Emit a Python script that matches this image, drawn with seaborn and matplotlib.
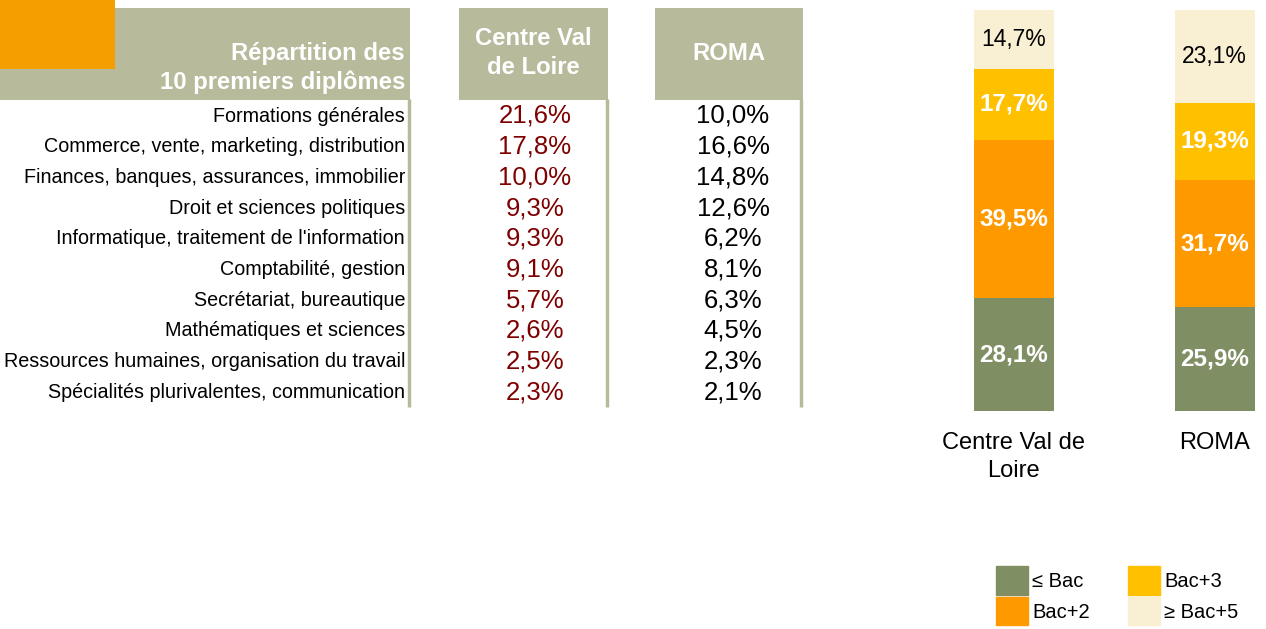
import matplotlib
matplotlib.use("Agg")
import matplotlib.pyplot as plt
from matplotlib.patches import Rectangle, Patch
import seaborn as sns
import pandas as pd

sns.set_style("white")
plt.rcParams["font.family"] = ["Liberation Sans", "DejaVu Sans"]
plt.rcParams["text.color"] = "black"
plt.rcParams["xtick.color"] = "black"

# table data
diplomes = [
    "Formations générales",
    "Commerce, vente, marketing, distribution",
    "Finances, banques, assurances, immobilier",
    "Droit et sciences politiques",
    "Informatique, traitement de l'information",
    "Comptabilité, gestion",
    "Secrétariat, bureautique",
    "Mathématiques et sciences",
    "Ressources humaines, organisation du travail",
    "Spécialités plurivalentes, communication",
]
centre_pct = ["21,6%", "17,8%", "10,0%", "9,3%", "9,3%", "9,1%", "5,7%", "2,6%", "2,5%", "2,3%"]
roma_pct = ["10,0%", "16,6%", "14,8%", "12,6%", "6,2%", "8,1%", "6,3%", "4,5%", "2,3%", "2,1%"]

# stacked bar data
regions = ["Centre Val de\nLoire", "ROMA"]
niveaux = ["≤ Bac", "Bac+2", "Bac+3", "≥ Bac+5"]
bac = [28.1, 25.9]
bac2 = [39.5, 31.7]
bac3 = [17.7, 19.3]
bac5 = [14.7, 23.1]

olive = "#B7BB9B"
colors = ["#7F8F63", "#FF9900", "#FFC000", "#F9EFD3"]

fig = plt.figure(figsize=(12.66, 6.29), dpi=100)

# --- table drawn in pixel coordinates ---
ax_tab = fig.add_axes([0, 0, 1, 1])
ax_tab.set_xlim(0, 1266)
ax_tab.set_ylim(629, 0)
ax_tab.axis("off")

ax_tab.add_patch(Rectangle((0, 8), 410, 92, color=olive, lw=0))
ax_tab.add_patch(Rectangle((459, 8), 149, 92, color=olive, lw=0))
ax_tab.add_patch(Rectangle((655, 8), 148, 92, color=olive, lw=0))
ax_tab.add_patch(Rectangle((0, 0), 115, 69, color="#F59E00", lw=0))
for xv in [409, 607, 801]:
    ax_tab.plot([xv, xv], [99, 407], color=olive, lw=2.5, solid_capstyle="butt")

ax_tab.text(405, 68, "Répartition des\n10 premiers diplômes", ha="right", va="center",
            color="white", fontweight="bold", fontsize=17.2, linespacing=1.25)
ax_tab.text(533, 53, "Centre Val\nde Loire", ha="center", va="center",
            color="white", fontweight="bold", fontsize=17.2, linespacing=1.3)
ax_tab.text(729, 53, "ROMA", ha="center", va="center",
            color="white", fontweight="bold", fontsize=17.2)

for i, (lab, c, r) in enumerate(zip(diplomes, centre_pct, roma_pct)):
    y = 116 + i * 30.7
    ax_tab.text(405, y, lab, ha="right", va="center", fontsize=14.2)
    ax_tab.text(535, y, c, ha="center", va="center", fontsize=18.5, color="#7F0000")
    ax_tab.text(733, y, r, ha="center", va="center", fontsize=18.5)

# --- stacked bars ---
ax_bar = fig.add_axes([0.7533, 0.3466, 0.2459, 0.6375])
ax_bar.set_facecolor("none")
df = pd.DataFrame({"region": regions, "Bac": bac, "Bac2": bac2, "Bac3": bac3, "Bac5": bac5})
segs = ["Bac", "Bac2", "Bac3", "Bac5"]
cum = df[segs].cumsum(axis=1)
for k in range(3, -1, -1):
    sns.barplot(x=df["region"], y=cum[segs[k]], color=colors[k], width=0.4,
                saturation=1, ax=ax_bar, errorbar=None, linewidth=0)

for j in range(len(regions)):
    bottom = 0
    for k, s in enumerate(segs):
        h = df.loc[j, s]
        txt = f"{h:.1f}%".replace(".", ",")
        if k == 3:
            ax_bar.text(j, bottom + h / 2, txt, ha="center", va="center", fontsize=16.5, color="black")
        else:
            ax_bar.text(j, bottom + h / 2, txt, ha="center", va="center", fontsize=17.5,
                        color="white", fontweight="bold")
        bottom += h

ax_bar.set_xlim(-0.3, 1.25)
ax_bar.set_ylim(0, 100)
ax_bar.set_xlabel("")
ax_bar.set_ylabel("")
ax_bar.set_yticks([])
ax_bar.tick_params(axis="x", length=0, pad=15, labelsize=17)
for t in ax_bar.get_xticklabels():
    t.set_linespacing(1.35)
sns.despine(ax=ax_bar, left=True, bottom=True)

handles = [Patch(color=c, label=n) for c, n in zip(colors, niveaux)]
fig.legend(handles=handles, ncol=2, loc="upper left", bbox_to_anchor=(986 / 1266, 1 - 556 / 629),
           frameon=False, fontsize=14.5, handlelength=1.6, handleheight=1.8, handletextpad=0.2,
           labelspacing=0.12, columnspacing=1.9, borderpad=0)

fig.savefig("out.png", dpi=100)
